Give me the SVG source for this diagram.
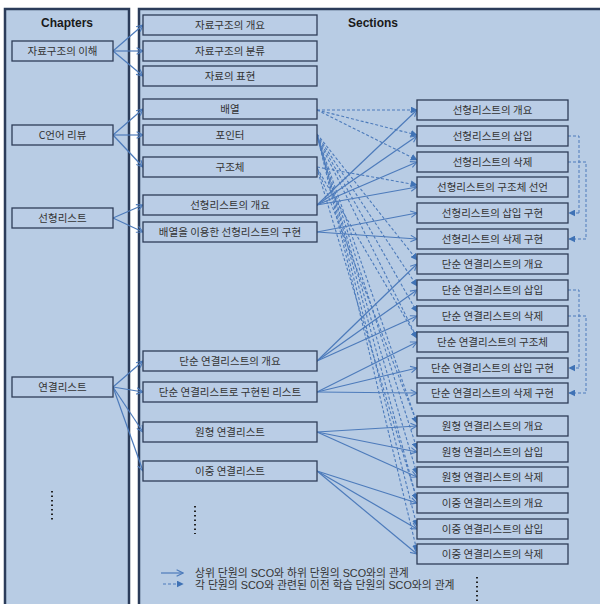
<svg xmlns="http://www.w3.org/2000/svg" width="600" height="604" viewBox="0 0 600 604">
<defs>
<style>
.panel{fill:#b8cce4;stroke:#2b3c5a;stroke-width:2.5}
.box{fill:#bacde6;stroke:#2e3d58;stroke-width:1.3}
.t{font-family:"Noto Sans CJK KR","Liberation Sans",sans-serif;font-size:10.5px;fill:#333;text-anchor:middle}
.lg{font-family:"Liberation Sans","Noto Sans CJK KR",sans-serif;font-size:10.8px;fill:#333}
.h{font-family:"Liberation Sans",Arial,sans-serif;font-size:12px;font-weight:bold;fill:#1a1a1a}
.s{fill:none;stroke:#4d7bbb;stroke-width:1.2;marker-end:url(#open)}
.d{fill:none;stroke:#4d7bbb;stroke-width:1.1;stroke-dasharray:3 2;marker-end:url(#fill)}
.b{fill:none;stroke:#4d7bbb;stroke-width:1;stroke-dasharray:3 2}
.dots{stroke:#222;stroke-width:2;stroke-dasharray:1.5 3;fill:none}
</style>
<marker id="open" viewBox="0 0 10 10" refX="9" refY="5" markerWidth="8" markerHeight="8" markerUnits="userSpaceOnUse" orient="auto">
<path d="M1,1 L9,5 L1,9" fill="none" stroke="#4d7bbb" stroke-width="1.4"/>
</marker>
<marker id="fill" viewBox="0 0 10 10" refX="9" refY="5" markerWidth="7" markerHeight="7" markerUnits="userSpaceOnUse" orient="auto">
<path d="M0,0 L10,5 L0,10 Z" fill="#3f72b5"/>
</marker>
</defs>
<rect width="600" height="604" fill="#fff"/>
<rect class="panel" x="5" y="9" width="124" height="610"/>
<rect class="panel" x="139" y="9" width="475" height="610"/>
<text class="h" x="67" y="27" text-anchor="middle">Chapters</text>
<text class="h" x="348" y="27">Sections</text>

<g id="connectors">
<path class="s" d="M113,51 L143,25"/>
<path class="s" d="M113,51 L143,51"/>
<path class="s" d="M113,51 L143,76"/>
<path class="s" d="M113,135 L143,109"/>
<path class="s" d="M113,135 L143,135"/>
<path class="s" d="M113,135 L143,167"/>
<path class="s" d="M113,218 L143,205"/>
<path class="s" d="M113,218 L143,232"/>
<path class="s" d="M113,387 L143,361"/>
<path class="s" d="M113,387 L143,392"/>
<path class="s" d="M113,387 L143,432"/>
<path class="s" d="M113,387 L143,471"/>
<path class="s" d="M317,205 L417,110"/>
<path class="s" d="M317,205 L417,136"/>
<path class="s" d="M317,205 L417,162"/>
<path class="s" d="M317,205 L417,187"/>
<path class="s" d="M317,232 L417,213"/>
<path class="s" d="M317,232 L417,239"/>
<path class="s" d="M317,361 L417,264"/>
<path class="s" d="M317,361 L417,290"/>
<path class="s" d="M317,361 L417,316"/>
<path class="s" d="M317,392 L417,342"/>
<path class="s" d="M317,392 L417,368"/>
<path class="s" d="M317,392 L417,393"/>
<path class="s" d="M317,432 L417,426"/>
<path class="s" d="M317,432 L417,452"/>
<path class="s" d="M317,432 L417,477"/>
<path class="s" d="M317,471 L417,503"/>
<path class="s" d="M317,471 L417,529"/>
<path class="s" d="M317,471 L417,554"/>
<path class="d" d="M317,110 L417,110"/>
<path class="d" d="M317,110 L417,135"/>
<path class="d" d="M317,110 L417,160"/>
<path class="d" d="M317,167 L417,185"/>
<path class="d" d="M317,134 L417,260"/>
<path class="d" d="M317,135 L417,286"/>
<path class="d" d="M317,136 L417,312"/>
<path class="d" d="M317,137 L417,338"/>
<path class="d" d="M318,138 L417,423"/>
<path class="d" d="M318,139 L417,449"/>
<path class="d" d="M318,140 L417,474"/>
<path class="d" d="M319,141 L417,500"/>
<path class="d" d="M319,142 L417,526"/>
<path class="d" d="M319,143 L417,551"/>
<path class="d" d="M317,168 L417,338"/>
<path class="d" d="M318,170 L417,423"/>
<path class="d" d="M318,172 L417,500"/>
<path class="b" d="M568,136 H579 V213"/><path class="d" d="M579,213 H569"/>
<path class="b" d="M568,162 H586 V239"/><path class="d" d="M586,239 H569"/>
<path class="b" d="M568,290 H579 V368"/><path class="d" d="M579,368 H569"/>
<path class="b" d="M568,316 H586 V393"/><path class="d" d="M586,393 H569"/>
</g>

<g id="ch1"><rect class="box" x="12" y="41" width="101" height="20"/><text class="t" x="62.5" y="55">자료구조의  이해</text></g>
<g id="ch2"><rect class="box" x="12" y="125" width="101" height="20"/><text class="t" x="62.5" y="139">C언어 리뷰</text></g>
<g id="ch3"><rect class="box" x="12" y="208" width="101" height="20"/><text class="t" x="62.5" y="222">선형리스트</text></g>
<g id="ch4"><rect class="box" x="12" y="377" width="101" height="20"/><text class="t" x="62.5" y="391">연결리스트</text></g>

<g id="s1"><rect class="box" x="143" y="15" width="174" height="20"/><text class="t" x="230" y="29">자료구조의 개요</text></g>
<g id="s2"><rect class="box" x="143" y="41" width="174" height="20"/><text class="t" x="230" y="55">자료구조의 분류</text></g>
<g id="s3"><rect class="box" x="143" y="66" width="174" height="20"/><text class="t" x="230" y="80">자료의 표현</text></g>
<g id="s4"><rect class="box" x="143" y="99" width="174" height="20"/><text class="t" x="230" y="113">배열</text></g>
<g id="s5"><rect class="box" x="143" y="125" width="174" height="20"/><text class="t" x="230" y="139">포인터</text></g>
<g id="s6"><rect class="box" x="143" y="157" width="174" height="20"/><text class="t" x="230" y="171">구조체</text></g>
<g id="s7"><rect class="box" x="143" y="195" width="174" height="20"/><text class="t" x="230" y="209">선형리스트의 개요</text></g>
<g id="s8"><rect class="box" x="143" y="222" width="174" height="20"/><text class="t" x="230" y="236">배열을 이용한 선형리스트의 구현</text></g>
<g id="s9"><rect class="box" x="143" y="351" width="174" height="20"/><text class="t" x="230" y="365">단순 연결리스트의 개요</text></g>
<g id="s10"><rect class="box" x="143" y="382" width="174" height="20"/><text class="t" x="230" y="396">단순 연결리스트로 구현된 리스트</text></g>
<g id="s11"><rect class="box" x="143" y="422" width="174" height="20"/><text class="t" x="230" y="436">원형 연결리스트</text></g>
<g id="s12"><rect class="box" x="143" y="461" width="174" height="20"/><text class="t" x="230" y="475">이중 연결리스트</text></g>

<g id="r1"><rect class="box" x="417" y="100" width="151" height="20"/><text class="t" x="492.5" y="114">선형리스트의 개요</text></g>
<g id="r2"><rect class="box" x="417" y="126" width="151" height="20"/><text class="t" x="492.5" y="140">선형리스트의 삽입</text></g>
<g id="r3"><rect class="box" x="417" y="152" width="151" height="20"/><text class="t" x="492.5" y="166">선형리스트의 삭제</text></g>
<g id="r4"><rect class="box" x="417" y="177" width="151" height="20"/><text class="t" x="492.5" y="191">선형리스트의 구조체 선언</text></g>
<g id="r5"><rect class="box" x="417" y="203" width="151" height="20"/><text class="t" x="492.5" y="217">선형리스트의 삽입 구현</text></g>
<g id="r6"><rect class="box" x="417" y="229" width="151" height="20"/><text class="t" x="492.5" y="243">선형리스트의 삭제 구현</text></g>
<g id="r7"><rect class="box" x="417" y="254" width="151" height="20"/><text class="t" x="492.5" y="268">단순 연결리스트의 개요</text></g>
<g id="r8"><rect class="box" x="417" y="280" width="151" height="20"/><text class="t" x="492.5" y="294">단순 연결리스트의 삽입</text></g>
<g id="r9"><rect class="box" x="417" y="306" width="151" height="20"/><text class="t" x="492.5" y="320">단순 연결리스트의 삭제</text></g>
<g id="r10"><rect class="box" x="417" y="332" width="151" height="20"/><text class="t" x="492.5" y="346">단순 연결리스트의 구조체</text></g>
<g id="r11"><rect class="box" x="417" y="358" width="151" height="20"/><text class="t" x="492.5" y="372">단순 연결리스트의 삽입 구현</text></g>
<g id="r12"><rect class="box" x="417" y="383" width="151" height="20"/><text class="t" x="492.5" y="397">단순 연결리스트의 삭제 구현</text></g>
<g id="r13"><rect class="box" x="417" y="416" width="151" height="20"/><text class="t" x="492.5" y="430">원형 연결리스트의 개요</text></g>
<g id="r14"><rect class="box" x="417" y="442" width="151" height="20"/><text class="t" x="492.5" y="456">원형 연결리스트의 삽입</text></g>
<g id="r15"><rect class="box" x="417" y="467" width="151" height="20"/><text class="t" x="492.5" y="481">원형 연결리스트의 삭제</text></g>
<g id="r16"><rect class="box" x="417" y="493" width="151" height="20"/><text class="t" x="492.5" y="507">이중 연결리스트의 개요</text></g>
<g id="r17"><rect class="box" x="417" y="519" width="151" height="20"/><text class="t" x="492.5" y="533">이중 연결리스트의 삽입</text></g>
<g id="r18"><rect class="box" x="417" y="544" width="151" height="20"/><text class="t" x="492.5" y="558">이중 연결리스트의 삭제</text></g>

<g id="ellipses">
<path class="dots" d="M52,491 V522"/>
<path class="dots" d="M195,506 V534"/>
<path class="dots" d="M477,577 V604"/>
</g>

<g id="legend">
<path class="s" d="M161,573 H183"/>
<path class="d" d="M163,584 H183"/>
<text class="lg" x="195" y="576.5">상위 단원의 SCO와 하위 단원의 SCO와의 관계</text>
<text class="lg" x="195" y="588.8">각 단원의 SCO와 관련된 이전 학습 단원의 SCO와의 관계</text>
</g>
</svg>
